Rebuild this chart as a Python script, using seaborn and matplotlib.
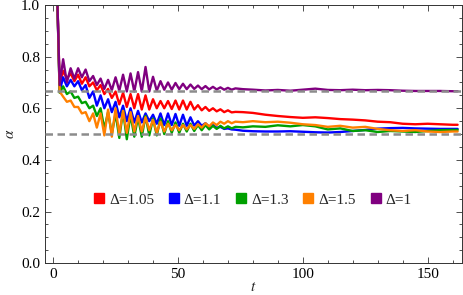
import numpy as np
import pandas as pd
import matplotlib
matplotlib.use("Agg")
import matplotlib.pyplot as plt
from matplotlib.lines import Line2D
from matplotlib.ticker import MultipleLocator, FormatStrFormatter
import seaborn as sns

# sample times (peaks / troughs of the early oscillation, then coarse)
t = [1.6, 2.6, 4.0, 5.5, 7.0, 8.5, 10.0, 11.5, 13.0, 14.5, 16.0, 17.5, 19.0, 20.5,
     22.0, 23.5, 25.0, 26.5, 28.0, 29.5, 31.0, 32.5, 34.0, 35.5, 37.0, 38.5, 40.0,
     41.5, 43.0, 44.5, 46.0, 47.5, 49.0, 50.5, 52.0, 53.5, 55.0, 56.5, 58.0, 59.5,
     61.0, 62.5, 64.0, 65.5, 67.0, 68.5, 70.0, 71.5, 73.0,
     76, 80, 85, 90, 95, 100, 105, 110, 115, 120, 125, 130, 135, 140, 145, 150,
     155, 160, 162]

alpha_105 = [1.05, 0.69, 0.745, 0.715, 0.735, 0.705, 0.73, 0.695, 0.72, 0.685, 0.70,
             0.67, 0.69, 0.655, 0.675, 0.64, 0.665, 0.615, 0.66, 0.605, 0.655, 0.60,
             0.655, 0.595, 0.65, 0.595, 0.635, 0.60, 0.628, 0.60, 0.628, 0.597, 0.63,
             0.595, 0.63, 0.595, 0.625, 0.595, 0.612, 0.592, 0.605, 0.59, 0.60, 0.588,
             0.596, 0.585, 0.592, 0.584, 0.586,
             0.585, 0.582, 0.575, 0.570, 0.566, 0.563, 0.565, 0.562, 0.558, 0.556,
             0.553, 0.548, 0.546, 0.540, 0.538, 0.540, 0.538, 0.536, 0.536]

alpha_11 = [1.05, 0.665, 0.72, 0.685, 0.71, 0.685, 0.705, 0.67, 0.69, 0.64, 0.665,
            0.61, 0.65, 0.60, 0.635, 0.585, 0.625, 0.565, 0.61, 0.55, 0.60, 0.545,
            0.59, 0.545, 0.58, 0.55, 0.575, 0.54, 0.58, 0.535, 0.58, 0.535, 0.578,
            0.532, 0.575, 0.532, 0.565, 0.533, 0.55, 0.532, 0.542, 0.528, 0.535, 0.524,
            0.528, 0.52, 0.522, 0.518, 0.517,
            0.513, 0.511, 0.510, 0.510, 0.511, 0.509, 0.507, 0.506, 0.508, 0.512,
            0.516, 0.521, 0.523, 0.524, 0.522, 0.521, 0.520, 0.520, 0.520]

alpha_13 = [1.05, 0.66, 0.685, 0.655, 0.665, 0.64, 0.645, 0.62, 0.625, 0.60, 0.61,
            0.57, 0.60, 0.52, 0.585, 0.50, 0.58, 0.485, 0.59, 0.48, 0.575, 0.49,
            0.565, 0.49, 0.57, 0.495, 0.56, 0.495, 0.56, 0.50, 0.55, 0.505, 0.545,
            0.505, 0.54, 0.51, 0.54, 0.512, 0.535, 0.515, 0.535, 0.518, 0.532, 0.52,
            0.532, 0.522, 0.53, 0.522, 0.528,
            0.526, 0.530, 0.528, 0.534, 0.530, 0.535, 0.530, 0.518, 0.522, 0.512,
            0.515, 0.508, 0.512, 0.510, 0.508, 0.512, 0.515, 0.516, 0.516]

alpha_15 = [1.05, 0.665, 0.645, 0.625, 0.63, 0.605, 0.605, 0.58, 0.585, 0.55, 0.58,
            0.525, 0.58, 0.495, 0.595, 0.49, 0.60, 0.50, 0.59, 0.505, 0.585, 0.51,
            0.57, 0.51, 0.565, 0.515, 0.555, 0.505, 0.548, 0.51, 0.54, 0.515, 0.535,
            0.515, 0.535, 0.518, 0.535, 0.52, 0.538, 0.525, 0.542, 0.53, 0.545, 0.535,
            0.548, 0.54, 0.55, 0.542, 0.548,
            0.546, 0.550, 0.546, 0.548, 0.544, 0.538, 0.535, 0.528, 0.532, 0.525,
            0.528, 0.520, 0.515, 0.512, 0.515, 0.510, 0.508, 0.510, 0.510]

alpha_1 = [1.05, 0.69, 0.79, 0.70, 0.755, 0.715, 0.755, 0.72, 0.75, 0.705, 0.725,
           0.69, 0.715, 0.675, 0.71, 0.67, 0.72, 0.668, 0.73, 0.665, 0.735, 0.665,
           0.74, 0.665, 0.76, 0.665, 0.722, 0.668, 0.705, 0.672, 0.70, 0.672, 0.698,
           0.674, 0.695, 0.674, 0.692, 0.675, 0.688, 0.674, 0.686, 0.673, 0.683, 0.673,
           0.681, 0.672, 0.679, 0.672, 0.677,
           0.674, 0.672, 0.669, 0.671, 0.668, 0.672, 0.676, 0.671, 0.670, 0.672,
           0.670, 0.671, 0.670, 0.668, 0.667, 0.667, 0.667, 0.666, 0.666]

labels = ["Δ=1.05", "Δ=1.1", "Δ=1.3", "Δ=1.5", "Δ=1"]
series = [alpha_105, alpha_11, alpha_13, alpha_15, alpha_1]
colors = ["#ff0000", "#0000ff", "#00a000", "#ff8000", "#800080"]
ref_levels = [2 / 3, 0.5]

df = pd.concat([pd.DataFrame({"t": t, "alpha": vals, "case": lab})
                for lab, vals in zip(labels, series)], ignore_index=True)

sns.set_theme(style="ticks")
plt.rcParams["font.family"] = ["Liberation Serif", "DejaVu Serif"]
plt.rcParams["mathtext.fontset"] = "stix"
plt.rcParams["lines.solid_joinstyle"] = "round"

fig = plt.figure(figsize=(4.63, 2.95), dpi=100)
ax = fig.add_axes([0.097, 0.108, 0.9, 0.875])

sns.lineplot(data=df, x="t", y="alpha", hue="case", hue_order=labels,
             palette=colors, estimator=None, sort=False, linewidth=1.7,
             legend=False, ax=ax)

for lvl in ref_levels:
    ax.axhline(lvl, color="#8c8c8c", lw=1.8, ls=(0, (3.0, 1.8)), zorder=5)

ax.set_xlim(-3.3, 163.6)
ax.set_ylim(0, 1)
ax.xaxis.set_major_locator(MultipleLocator(50))
ax.xaxis.set_minor_locator(MultipleLocator(10))
ax.yaxis.set_major_locator(MultipleLocator(0.2))
ax.yaxis.set_minor_locator(MultipleLocator(0.05))
ax.yaxis.set_major_formatter(FormatStrFormatter("%.1f"))
ax.tick_params(which="both", direction="in", top=True, right=True,
               labelsize=11, colors="#333333", labelcolor="black", width=0.6)
ax.tick_params(which="major", length=4.5)
ax.tick_params(which="minor", length=2.5)
for sp in ax.spines.values():
    sp.set_linewidth(0.7)
    sp.set_color("#333333")

ax.set_xlabel("$t$", fontsize=11, labelpad=0)
ax.set_ylabel(r"$\alpha$", fontsize=11, labelpad=3)

handles = [Line2D([], [], marker="s", ls="", markersize=7.5, color=c) for c in colors]
ax.legend(handles, labels, loc="center", bbox_to_anchor=(0.496, 0.245), ncol=5,
          frameon=False, fontsize=11, handletextpad=0.15, columnspacing=0.8,
          handlelength=1.0)

fig.savefig("out.png", dpi=100)
